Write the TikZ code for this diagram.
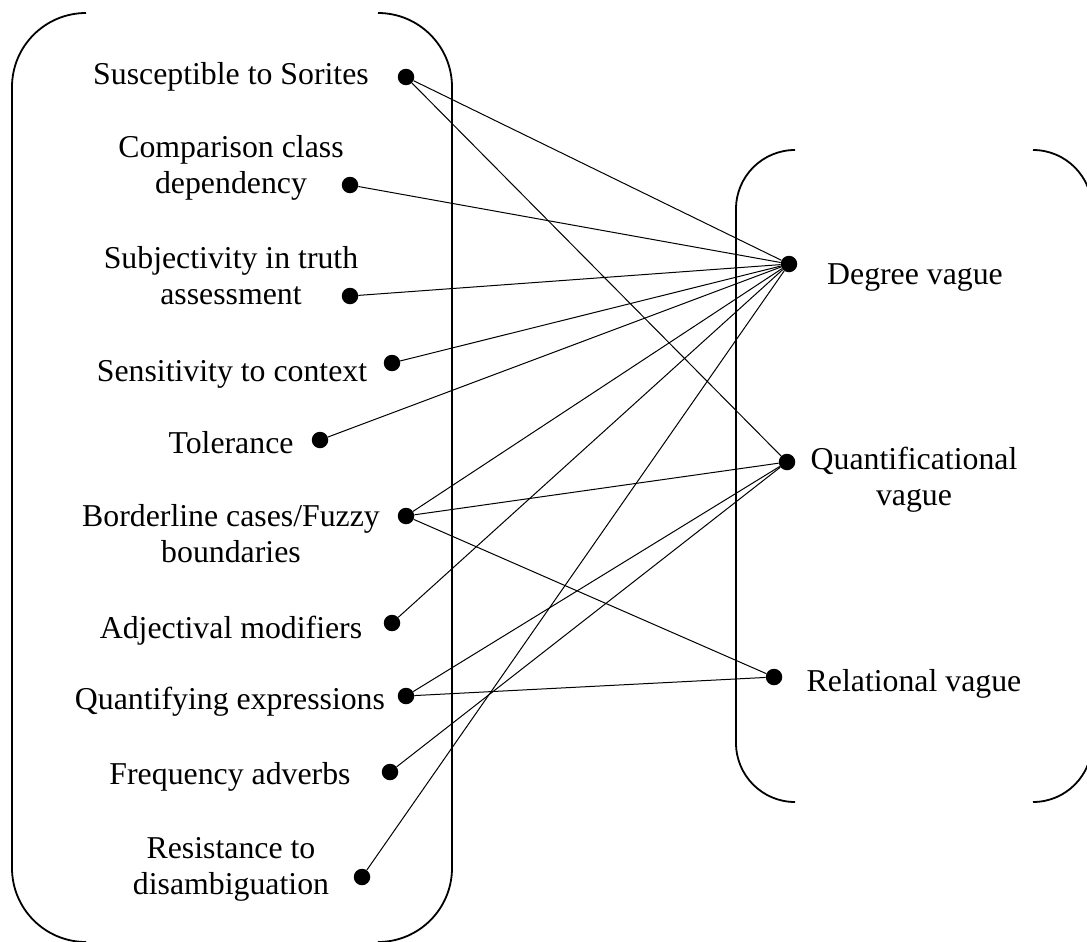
\documentclass[tikz,border=0pt]{standalone}
\usepackage{fontspec}
\setmainfont{Liberation Serif}
\begin{document}
\begin{tikzpicture}[x=1pt,y=-1pt,
  lbl/.style={align=center, inner sep=0pt, font=\fontsize{31.8}{36}\selectfont},
  dot/.style={circle, fill=black, inner sep=0pt, minimum size=16.5pt},
  link/.style={line width=1pt},
  brk/.style={line width=1.8pt}]
\useasboundingbox (0,0) rectangle (1087,942);
% brackets
\draw[brk, rounded corners=74pt] (86,13) -- (12,13) -- (12,942) -- (86,942);
\draw[brk, rounded corners=74pt] (378,13) -- (452,13) -- (452,942) -- (378,942);
\draw[brk, rounded corners=59pt] (795,150) -- (736,150) -- (736,802) -- (795,802);
\draw[brk, rounded corners=59pt] (1033,150) -- (1092,150) -- (1092,802) -- (1033,802);
% left labels
\node[lbl] (t1) at (231,77) {\strut Susceptible to Sorites};
\node[lbl] (t2) at (231,168) {\strut Comparison class\\\strut dependency};
\node[lbl] (t3) at (231,279) {\strut Subjectivity in truth\\\strut assessment};
\node[lbl] (t4) at (232,374) {\strut Sensitivity to context};
\node[lbl] (t5) at (231,446) {\strut Tolerance};
\node[lbl] (t6) at (231,537) {\strut Borderline cases/Fuzzy\\\strut boundaries};
\node[lbl] (t7) at (231,631) {\strut Adjectival modifiers};
\node[lbl] (t8) at (230,702) {\strut Quantifying expressions};
\node[lbl] (t9) at (230,777) {\strut Frequency adverbs};
\node[lbl] (t10) at (231,869) {\strut Resistance to\\\strut disambiguation};
% right labels
\node[lbl] (r1) at (915,277) {\strut Degree vague};
\node[lbl] (r2) at (914,480) {\strut Quantificational\\\strut vague};
\node[lbl] (r3) at (914,684) {\strut Relational vague};
% dots
\node[dot] (d1) at (406,77) {};
\node[dot] (d2) at (350,185) {};
\node[dot] (d3) at (350,296) {};
\node[dot] (d4) at (392,363) {};
\node[dot] (d5) at (320,440) {};
\node[dot] (d6) at (406,516) {};
\node[dot] (d7) at (392,623) {};
\node[dot] (d8) at (406,696) {};
\node[dot] (d9) at (390,772) {};
\node[dot] (d10) at (362,877) {};
\node[dot] (e1) at (789,264) {};
\node[dot] (e2) at (787,462) {};
\node[dot] (e3) at (774,677) {};
% connectors
\draw[link] (d1) -- (e1);
\draw[link] (d1) -- (e2);
\draw[link] (d2) -- (e1);
\draw[link] (d3) -- (e1);
\draw[link] (d4) -- (e1);
\draw[link] (d5) -- (e1);
\draw[link] (d6) -- (e1);
\draw[link] (d6) -- (e2);
\draw[link] (d6) -- (e3);
\draw[link] (d7) -- (e1);
\draw[link] (d8) -- (e2);
\draw[link] (d8) -- (e3);
\draw[link] (d9) -- (e2);
\draw[link] (d10) -- (e1);
\end{tikzpicture}
\end{document}
